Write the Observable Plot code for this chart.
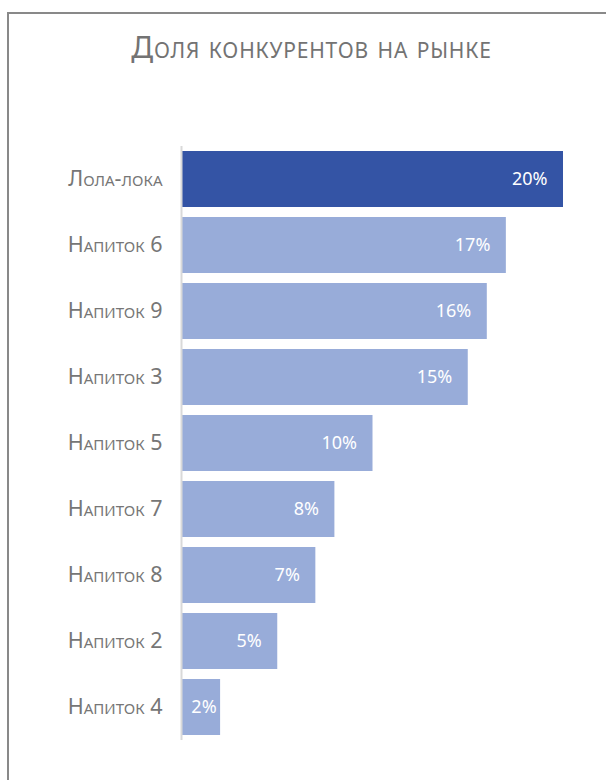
<!DOCTYPE html>
<html>
<head>
<meta charset="utf-8">
<script src="https://cdn.jsdelivr.net/npm/d3@7"></script>
<script src="https://cdn.jsdelivr.net/npm/@observablehq/plot@0.6"></script>
<style>
  html, body { margin: 0; padding: 0; width: 606px; height: 780px; overflow: hidden; background: #fff; font-family: "Noto Sans", sans-serif; }
  #frame { position: absolute; left: 7px; top: 12px; width: 700px; height: 900px; border-top: 2px solid #898989; border-left: 2px solid #898989; }
  #title { position: absolute; top: 29px; left: 0; width: 623px; text-align: center; font-size: 30px; line-height: 36px; letter-spacing: 0.8px; color: #737373; font-family: "Noto Sans", sans-serif; white-space: nowrap; }
  #title .sc { font-size: 0.7em; text-transform: uppercase; }
  #chart { position: absolute; left: 0; top: 100px; }
</style>
</head>
<body>
<div id="frame"></div>
<div id="title"></div>
<div id="chart"></div>
<script>
const titleText = "Доля конкурентов на рынке";
const categories = ["Лола-лока", "Напиток 6", "Напиток 9", "Напиток 3", "Напиток 5", "Напиток 7", "Напиток 8", "Напиток 2", "Напиток 4"];
const values = [20, 17, 16, 15, 10, 8, 7, 5, 2];
const highlight = "Лола-лока";

const data = categories.map((c, i) => ({name: c, value: values[i]}));

// split text into runs: lowercase letters become small caps
function runs(s) {
  return s.match(/(\p{Ll}+)|([^\p{Ll}]+)/gu).map(r => ({text: r, small: /\p{Ll}/u.test(r)}));
}

const titleEl = document.getElementById("title");
for (const r of runs(titleText)) {
  const span = document.createElement("span");
  if (r.small) span.className = "sc";
  span.textContent = r.text;
  titleEl.appendChild(span);
}

const chart = Plot.plot({
  width: 606,
  height: 680,
  marginTop: 46,
  marginBottom: 40,
  marginLeft: 182,
  marginRight: 43,
  style: {fontFamily: "'Noto Sans', sans-serif", background: "transparent"},
  x: {domain: [0, 20], axis: null},
  y: {domain: categories, paddingInner: 0.15, paddingOuter: 0.075, label: null},
  marks: [
    Plot.barX(data, {y: "name", x: "value", fill: d => d.name === highlight ? "#3454A5" : "#98ACD9"}),
    Plot.ruleX([0], {stroke: "#d9d9d9", strokeWidth: 2, dx: -1}),
    Plot.axisY({tickSize: 0, tickPadding: 20, fontSize: 21.5, color: "#767676", className: "ylab", label: null}),
    Plot.text(data.filter(d => d.value >= 5), {y: "name", x: "value", text: d => d.value + "%", textAnchor: "end", dx: -16, fill: "#ffffff", fontSize: 18}),
    Plot.text(data.filter(d => d.value < 5), {y: "name", x: "value", text: d => d.value + "%", textAnchor: "end", dx: -4, fill: "#ffffff", fontSize: 18})
  ]
});

// small caps for the category labels
d3.select(chart).selectAll(".ylab text").each(function() {
  const s = this.textContent;
  const sel = d3.select(this);
  sel.text("");
  for (const r of runs(s)) {
    const ts = sel.append("tspan").text(r.text);
    if (r.small) ts.attr("font-size", "0.7em").style("text-transform", "uppercase");
  }
});

document.getElementById("chart").appendChild(chart);
</script>
</body>
</html>
